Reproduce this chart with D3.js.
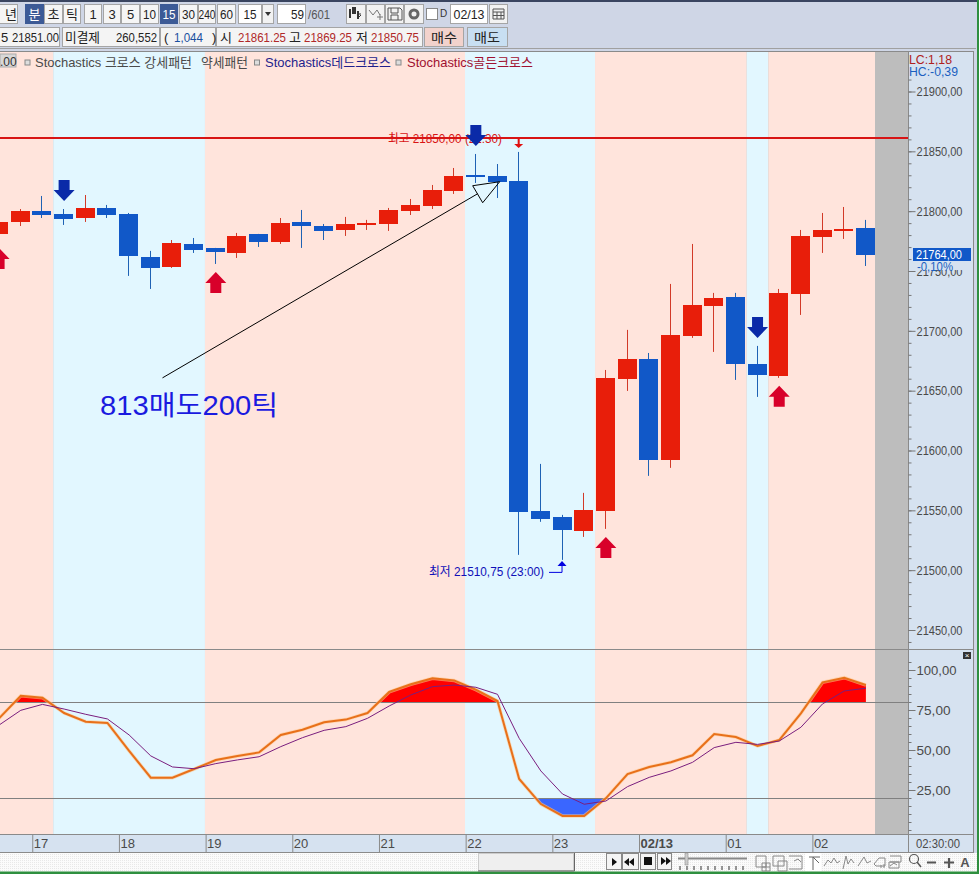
<!DOCTYPE html>
<html><head><meta charset="utf-8">
<script src="https://cdnjs.cloudflare.com/ajax/libs/d3/7.8.5/d3.min.js"></script>
<style>html,body{margin:0;padding:0;background:#cfd6e6;overflow:hidden}svg{display:block}
text{font-family:"Liberation Sans","Noto Sans CJK KR",sans-serif;white-space:pre}</style>
</head><body><div id="c"></div>
<script>
// ---------- data ----------
const opens  = [21781,21791,21800.2,21797.7,21794.3,21802.7,21797.7,21761.7,21753.4,21772.6,21769.3,21765.1,21781,21774.3,21791,21787.6,21784.3,21788.5,21789.3,21800.2,21804.3,21816.9,21830.2,21829.4,21825.2,21549.6,21544.5,21532.8,21549.6,21659.8,21676.5,21592.2,21695.7,21720.8,21728.3,21672.4,21662.3,21730.8,21778.4,21783.5,21786];
const highs  = [21793,21801.8,21812.7,21801.8,21813.5,21805.2,21798.5,21766.8,21775.9,21777.6,21769.3,21781.8,21781,21794.3,21801,21789.3,21795.2,21792.7,21802.7,21810.2,21821.9,21836.1,21847.8,21839.4,21849.5,21588.8,21546.2,21564.6,21667.3,21700.8,21681.5,21739.2,21772.6,21731.7,21731.7,21687.4,21735,21784.3,21798.5,21803.5,21792.7];
const lows   = [21775.9,21787.6,21794.3,21788.5,21791,21794.3,21745.9,21735,21752.6,21765.1,21755.9,21760.9,21770.1,21772.6,21769.3,21775.9,21779.3,21784.3,21783.5,21796.8,21801.8,21814.4,21823.6,21811,21512.8,21540.4,21508.6,21527.8,21534.5,21649.8,21578.8,21585.5,21694.1,21682.4,21659,21644.8,21660.7,21713.3,21765.1,21776.8,21754.2];
const closes = [21791,21800.2,21796.8,21793.5,21802.7,21796.8,21762.6,21752.6,21773.4,21767.6,21765.9,21779.3,21774.3,21790.1,21787.6,21783.5,21789.3,21790.1,21801,21805.2,21817.7,21829.4,21828.6,21824.4,21548.7,21542.9,21533.7,21550.4,21660.7,21676.5,21592.2,21696.6,21721.6,21727.5,21672.4,21663.2,21731.7,21779.3,21784.3,21785.1,21763.5];
const stochSlow = [69.8,83.9,82.7,73.1,67.7,66.9,49.4,32.7,32.7,38.1,43.7,46.2,48.5,59.4,62.7,67.3,69,73.1,86.3,91.1,94.8,93.5,87.7,80.6,31.9,16.2,8.8,8.8,19.8,35,39.4,42.3,46.7,60,58.1,52.5,56.2,72.9,92.3,95.2,90.6];
const stochSignal = [65.6,74.8,78.5,75.6,72.3,69.4,59.4,46.3,39.4,38.3,41.5,43.8,45.8,52.1,57.7,62.3,64.6,69.8,77.5,84.4,89.6,90.6,89.2,84.8,57.3,36.9,22.5,16.1,18.1,27.1,32.9,36.9,42.3,51.5,54.8,53.5,55.6,64.2,78.8,86.9,88.6];
const bandStarts = [-1,2.5,9.5,21.5,27.5,34.5,35.5];
const bandEnds   = [2.5,9.5,21.5,27.5,34.5,35.5,40.42];
const bandKinds  = ["up","down","up","down","up","down","up"];
const downSignals = [3,22,35];
const upSignals = [0,10,28,36];
const priceMajor = [21450,21500,21550,21600,21650,21700,21750,21800,21850,21900];
const priceMinor = d3.range(21440,21920,10);
const stochMajor = [25,50,75,100];
const stochMinor = d3.range(0,110,5);
const timeTickIdx = [2,6,10,14,18,22,26,30,34,38];
const timeTickLabels = ["17","18","19","20","21","22","23","02/13","01","02"];
const openLevel = 21861.25, lastPrice = 21764;
const periodsA = ["년","분","초","틱"], periodsB = ["1","3","5","10","15","30","240","60"];

// ---------- setup ----------
const W=979,H=874, plotR=908, axisR=973, plotTop=52, split=649, plotBot=834;
const svg=d3.select("#c").append("svg").attr("width",W).attr("height",H).attr("viewBox",`0 0 ${W} ${H}`);
const x=d3.scaleLinear().domain([0,40]).range([-0.9,865.9]);
const y=d3.scaleLinear().domain([21450,21900]).range([630,91.5]);
const ys=d3.scaleLinear().domain([25,100]).range([790,670]);
const fmt=d3.format(".2f"), cm=v=>fmt(v).replace(".",",");
const T=(g,s,px,py,o={})=>{const t=g.append("text").attr("x",px).attr("y",py).text(s)
  .attr("font-size",o.size||13).attr("fill",o.fill||"#333").attr("text-anchor",o.anchor||"start")
  .attr("dominant-baseline","central");
  if(o.len)t.attr("textLength",o.len).attr("lengthAdjust","spacingAndGlyphs");
  if(o.weight)t.attr("font-weight",o.weight);return t;};

svg.append("rect").attr("width",W).attr("height",H).attr("fill","#cfd6e6");
svg.append("rect").attr("width",W).attr("height",2).attr("fill","#3a4560");
svg.append("rect").attr("y",48).attr("width",976).attr("height",1).attr("fill","#a0a0a0");
svg.append("rect").attr("x",977).attr("width",2).attr("height",H).attr("fill","#2f8f3f");

// ---------- plot backgrounds ----------
const plot=svg.append("g");
plot.append("rect").attr("x",0).attr("y",plotTop).attr("width",plotR).attr("height",plotBot-plotTop).attr("fill","#bdbdbd");
plot.selectAll(".band").data(bandStarts).join("rect")
  .attr("x",d=>Math.max(0,x(d))).attr("y",plotTop)
  .attr("width",(d,i)=>x(bandEnds[i])-Math.max(0,x(d))).attr("height",plotBot-plotTop)
  .attr("fill",(d,i)=>bandKinds[i]==="up"?"#ffe4dc":"#e2f7ff");

// ---------- axis panels ----------
svg.append("rect").attr("x",plotR).attr("y",51).attr("width",axisR-plotR).attr("height",801).attr("fill","#d6e2f0");
svg.append("rect").attr("x",0).attr("y",834).attr("width",axisR).attr("height",18).attr("fill","#d6e2f0");
svg.append("rect").attr("x",0).attr("y",51).attr("width",974).attr("height",1).attr("fill","#8a8a8a");
svg.append("rect").attr("x",973).attr("y",51).attr("width",1).attr("height",801).attr("fill","#8a8a8a");
svg.append("rect").attr("x",plotR).attr("y",51).attr("width",1).attr("height",801).attr("fill","#8a8a8a");
svg.append("rect").attr("x",0).attr("y",split).attr("width",974).attr("height",1).attr("fill","#8a8a8a");
svg.append("rect").attr("x",0).attr("y",834).attr("width",974).attr("height",1).attr("fill","#8a8a8a");
svg.append("rect").attr("x",0).attr("y",852).attr("width",974).attr("height",1).attr("fill","#8a8a8a");

function styleAxis(g,size){g.select(".domain").remove();g.selectAll("line").attr("stroke","#777");
  g.selectAll("text").attr("fill","#4a4a4a").attr("font-size",size||13);}
svg.append("g").attr("transform",`translate(${plotR+.5},0)`).call(d3.axisRight(y).tickValues(priceMinor).tickSize(3).tickFormat("")).call(styleAxis);
const yAx=svg.append("g").attr("transform",`translate(${plotR+.5},0)`).call(d3.axisRight(y).tickValues(priceMajor).tickSize(7).tickPadding(1).tickFormat(cm)).call(styleAxis);
yAx.selectAll("text").attr("textLength",46).attr("lengthAdjust","spacingAndGlyphs");
svg.append("g").attr("transform",`translate(${plotR+.5},0)`).call(d3.axisRight(ys).tickValues(stochMinor).tickSize(3).tickFormat("")).call(styleAxis);
const sAx=svg.append("g").attr("transform",`translate(${plotR+.5},0)`).call(d3.axisRight(ys).tickValues(stochMajor).tickSize(7).tickPadding(1).tickFormat(cm)).call(styleAxis);
sAx.selectAll("text").each(function(d){d3.select(this).attr("textLength",d===100?40:34).attr("lengthAdjust","spacingAndGlyphs");});

// time axis
const xT=d3.scaleOrdinal().domain(timeTickLabels).range(timeTickIdx.map(i=>x(i-0.47)));
const xAx=svg.append("g").attr("transform","translate(0,834)").call(d3.axisBottom(xT).tickSize(18).tickPadding(0));
xAx.select(".domain").remove();xAx.selectAll("line").attr("stroke","#8a8a8a");
xAx.selectAll("text").attr("y",9).attr("dy",0).attr("x",1).attr("text-anchor","start").attr("dominant-baseline","central")
  .attr("fill","#4a4a4a").attr("font-size",13).attr("font-weight",d=>d==="02/13"?"bold":null);
svg.append("rect").attr("x",plotR).attr("y",834).attr("width",1).attr("height",18).attr("fill","#8a8a8a");
T(svg,"02:30:00",916,843.5,{fill:"#4a4a4a",len:44});

// ---------- level line ----------
svg.append("line").attr("x1",0).attr("x2",plotR).attr("y1",Math.round(y(openLevel))).attr("y2",Math.round(y(openLevel))).attr("stroke","#d81414").attr("stroke-width",2);

// ---------- annotations under candles ----------
T(svg,"최고 21850,00 (22:30)",388,139,{size:12.5,fill:"#d81414",len:114});
T(svg,"최저 21510,75 (23:00)",429,571.5,{size:12.5,fill:"#1010b8",len:115});

// ---------- candles ----------
const cg=svg.append("g");
const idx=d3.range(opens.length), up=i=>closes[i]>=opens[i];
cg.selectAll(".w").data(idx).join("rect")
  .attr("x",i=>Math.floor(x(i)-.5)).attr("width",1)
  .attr("y",i=>y(highs[i])).attr("height",i=>y(lows[i])-y(highs[i]))
  .attr("fill",i=>up(i)?"#d23a28":"#1f62b4");
cg.selectAll(".b").data(idx).join("rect")
  .attr("x",i=>Math.floor(x(i)-9.5)).attr("width",19)
  .attr("y",i=>Math.round(y(Math.max(opens[i],closes[i]))))
  .attr("height",i=>Math.max(2,Math.round(y(Math.min(opens[i],closes[i]))-y(Math.max(opens[i],closes[i])))))
  .attr("fill",i=>up(i)?"#e81e0a":"#1158c8");

// signal arrows
const downArrow=i=>{const c=x(i),t=y(highs[i])-8;return `M${c},${t}l-10.5,-11h5v-10h11v10h5z`;};
const upArrow=i=>{const c=x(i),t=y(lows[i])+8;return `M${c},${t}l-10.5,11h5v10h11v-10h5z`;};
svg.selectAll(".da").data(downSignals).join("path").attr("d",downArrow).attr("fill","#0a2aa8");
svg.selectAll(".ua").data(upSignals).join("path").attr("d",upArrow).attr("fill","#d8002a");
// high marker
{const i=24,c=x(i)-.5,t=y(highs[i]);
 svg.append("path").attr("d",`M${c},${t-4}l-4.5,-4h3.5v-5h2v5h3.5z`).attr("fill","#e01010");}
// low marker
{const i=26,c=x(i)-.5,t=y(lows[i]);
 svg.append("path").attr("d",`M${c},${t+1}l-4.5,5h9z`).attr("fill","#0000e0");
 svg.append("path").attr("d",`M${c-13},${t+12.5}h13v-7`).attr("fill","none").attr("stroke","#0000e0");}

// drawn trend note
const noteFrom=[7.54,21660.7], noteTo=[23.1,21824.6];
const tx=x(noteTo[0]),ty=y(noteTo[1]);
svg.append("line").attr("x1",x(noteFrom[0])).attr("y1",y(noteFrom[1])).attr("x2",tx-22).attr("y2",ty+12).attr("stroke","#000").attr("stroke-width",1);
svg.append("path").attr("d",`M${tx},${ty}L${tx-27},${ty+4}L${tx-17},${ty+21}Z`).attr("fill","none").attr("stroke","#000");
T(svg,"813매도200틱",100,405.5,{size:27,fill:"#1a1ae0",len:178});

// ---------- stochastic ----------
svg.append("clipPath").attr("id","above").append("rect").attr("x",0).attr("y",plotTop).attr("width",plotR).attr("height",ys(80)-plotTop);
svg.append("clipPath").attr("id","below").append("rect").attr("x",0).attr("y",ys(20)).attr("width",plotR).attr("height",plotBot-ys(20));
const area=lvl=>d3.area().x((d,i)=>x(i)).y0(ys(lvl)).y1(d=>ys(d));
svg.append("path").attr("clip-path","url(#above)").attr("d",area(80)(stochSlow)).attr("fill","#ff0000");
svg.append("path").attr("clip-path","url(#below)").attr("d",area(20)(stochSlow)).attr("fill","#3a66ff");
[80,20].forEach(l=>svg.append("line").attr("x1",0).attr("x2",plotR).attr("y1",Math.round(ys(l))+.5).attr("y2",Math.round(ys(l))+.5).attr("stroke","#808080"));
const ln=d3.line().x((d,i)=>x(i)).y(d=>ys(d));
svg.append("path").attr("d",ln(stochSlow)).attr("fill","none").attr("stroke","#ffc890").attr("stroke-opacity",.6).attr("stroke-width",3.5);
svg.append("path").attr("d",ln(stochSlow)).attr("fill","none").attr("stroke","#e8701a").attr("stroke-width",2);
svg.append("path").attr("d",ln(stochSignal)).attr("fill","none").attr("stroke","#7a1e7e").attr("stroke-width",1);

// ---------- axis extras ----------
T(svg,"LC:1,18",909,59,{fill:"#b02020",len:43});
T(svg,"HC:-0,39",909,71,{fill:"#1a5fc0",len:49});
svg.append("rect").attr("x",913).attr("y",248).attr("width",58).attr("height",13).attr("fill","#1158c8");
T(svg,cm(lastPrice),916,254.5,{fill:"#fff",len:46});
svg.append("rect").attr("x",914).attr("y",261).attr("width",50).attr("height",9).attr("fill","#d6e2f0");
T(svg,"-0,10%",917,266,{fill:"#1a5fc0",len:36});
svg.append("rect").attr("x",963).attr("y",652).attr("width",8).attr("height",7).attr("fill","#333");
T(svg,"×",967,655.5,{size:8,fill:"#fff",anchor:"middle"});

// ---------- legend ----------
svg.append("rect").attr("x",0).attr("y",54).attr("width",16).attr("height",13).attr("fill","#d8d8d8").attr("stroke","#aaa");
T(svg,".00",0,61.5,{size:12,fill:"#333"});
[27,256.5,398].forEach(px=>svg.append("rect").attr("x",px-2).attr("y",60).attr("width",5).attr("height",5).attr("fill","#ddd").attr("stroke","#888"));
T(svg,"Stochastics 크로스 강세패턴",35,62,{fill:"#4a4a4a",len:157});
T(svg,"약세패턴",201,62,{fill:"#4a4a4a",len:47});
T(svg,"Stochastics데드크로스",265,62,{fill:"#1e1e8c",len:126});
T(svg,"Stochastics골든크로스",407,62,{fill:"#a01030",len:126});

// ---------- toolbar ----------
const tb=svg.append("g");
const btn=(x0,x1,y0,y1,fill,sel)=>tb.append("rect").attr("x",x0+.5).attr("y",y0+.5).attr("width",x1-x0-1).attr("height",y1-y0-1).attr("fill",fill).attr("stroke",sel?"#3c5a96":"#a5a5a5");
const edgesA=[[-4,18],[25,44],[44,63],[63,81]];
periodsA.forEach((s,i)=>{const e=edgesA[i],sel=s==="분";btn(e[0],e[1],4,24,sel?"#3c5a96":"#f5f5f5",sel);T(tb,s,(e[0]+e[1])/2+(i==0?4:0),14,{anchor:"middle",fill:sel?"#fff":"#222"});});
const edgesB=[[84,102],[103,121],[121,140],[140,159],[160,178],[179,198],[198,216],[217,236]];
periodsB.forEach((s,i)=>{const e=edgesB[i],sel=s==="15";btn(e[0],e[1],4,24,sel?"#3c5a96":"#f5f5f5",sel);T(tb,s,(e[0]+e[1])/2,14,{anchor:"middle",fill:sel?"#fff":"#222",len:s.length>2?17:(s.length>1?13:null)});});
btn(238,262,4,24,"#fff");T(tb,"15",250,14,{anchor:"middle",fill:"#222",len:13});
btn(262,274,4,24,"#f2f2f2");tb.append("path").attr("d","M265,12h6l-3,4z").attr("fill","#333");
btn(277,306,4,24,"#fff");T(tb,"59",304,14,{anchor:"end",fill:"#222",len:13});
T(tb,"/601",308,14,{fill:"#555",len:22});
[[346,366],[366,385],[385,404],[404,424]].forEach(e=>btn(e[0],e[1],4,24,"#f2f2f2"));
tb.append("path").attr("d","M350,9v9M354,7v7M354,8h-1v5h2v-5z M358,11v8").attr("stroke","#333").attr("stroke-width",2).attr("fill","none");
tb.append("path").attr("d","M361,15l-3,3M361,14l-2,0").attr("stroke","#333").attr("fill","none");
tb.append("path").attr("d","M369,10l4,5l4,-5l3,5M377,17h6M380,14v6").attr("stroke","#777").attr("fill","none");
tb.append("path").attr("d","M388,8h12l2,2v10h-14zM391,8v5h7v-5M391,20v-5h7v5").attr("stroke","#555").attr("fill","none");
tb.append("circle").attr("cx",414).attr("cy",14).attr("r",4).attr("fill","none").attr("stroke","#666").attr("stroke-width",3);
tb.append("rect").attr("x",426.5).attr("y",8.5).attr("width",11).attr("height",11).attr("fill","#fff").attr("stroke","#888");
T(tb,"D",440,13,{size:10,fill:"#333"});
btn(450,488,4,24,"#fff");T(tb,"02/13",469,14,{anchor:"middle",fill:"#222",len:31});
btn(489,508,4,24,"#f2f2f2");
tb.append("path").attr("d","M493,9h11v10h-11zM493,12h11M497,12v7M501,12v7M493,15.5h11").attr("stroke","#555").attr("fill","none");

// second row
btn(-4,60,27,47,"#f4f4f4");
T(tb,"5",1,37,{fill:"#222"});T(tb,"21851.00",12,37,{fill:"#222",len:47});
btn(62,160,27,47,"#f4f4f4");T(tb,"미결제",65,37,{fill:"#222",len:35});T(tb,"260,552",157,37,{anchor:"end",fill:"#222",len:41});
btn(160,216,27,47,"#f4f4f4");T(tb,"(",164,37,{fill:"#222"});T(tb,"1,044",174,37,{fill:"#1a50a0",len:29});T(tb,")",212,37,{fill:"#222"});
btn(216,423,27,47,"#f4f4f4");
T(tb,"시",220,37,{fill:"#222"});T(tb,"21861.25",238,37,{fill:"#b02828",len:48});
T(tb,"고",289,37,{fill:"#222"});T(tb,"21869.25",304,37,{fill:"#b02828",len:48});
T(tb,"저",356,37,{fill:"#222"});T(tb,"21850.75",371,37,{fill:"#b02828",len:48});
btn(424,464,27,47,"#f2d2cc");T(tb,"매수",444,37,{anchor:"middle",fill:"#222",len:26});
btn(467,508,27,47,"#c8dff2");T(tb,"매도",487,37,{anchor:"middle",fill:"#222",len:26});

// ---------- bottom strip ----------
const bs=svg.append("g");
const pat=svg.append("pattern").attr("id","dith").attr("width",2).attr("height",2).attr("patternUnits","userSpaceOnUse");
pat.append("rect").attr("width",2).attr("height",2).attr("fill","#fbfbfb");
pat.append("rect").attr("width",1).attr("height",1).attr("fill","#e8e8e8");
bs.append("rect").attr("x",0).attr("y",853).attr("width",977).attr("height",19).attr("fill","url(#dith)");
bs.append("rect").attr("x",0).attr("y",871.5).attr("width",979).attr("height",2.5).attr("fill","#2f8f3f");
bs.append("rect").attr("x",478.5).attr("y",853.5).attr("width",95).attr("height",17).attr("fill","#efefef").attr("stroke","#ccc");
bs.append("path").attr("d","M574.5,853v18H478").attr("stroke","#666").attr("fill","none");
[[606,622],[622,639],[640,656],[657,672]].forEach(e=>{bs.append("rect").attr("x",e[0]+.5).attr("y",853.5).attr("width",e[1]-e[0]-1).attr("height",16).attr("fill","#f4f4f4").attr("stroke","#888");});
bs.append("path").attr("d","M612,858l5,4l-5,4zM634,858l-5,4l5,4zM629,858l-5,4l5,4zM644,857h8v8h-8zM661,857l5,4l-5,4zM666,857l5,4l-5,4z").attr("fill","#111");
bs.append("line").attr("x1",678).attr("x2",747).attr("y1",858.5).attr("y2",858.5).attr("stroke","#888").attr("stroke-width",2);
bs.append("rect").attr("x",685).attr("y",853).attr("width",3).attr("height",12).attr("fill","#ccc").attr("stroke","#888").attr("stroke-width",.5);
d3.range(680,750,7).forEach(px=>bs.append("line").attr("x1",px).attr("x2",px).attr("y1",866).attr("y2",870).attr("stroke","#333"));
bs.append("path").attr("d","M756,856h10v11h-10zM762,863h8v8h-8zM762,867h8M766,863v8M773,856h11v10h-11zM778,861h9v10h-9zM789,856h13v13h-13M794,861l4,-2l3,3").attr("fill","none").attr("stroke","#888");
bs.append("rect").attr("x",805).attr("y",853).attr("width",16).attr("height",18).attr("fill","#fff");
bs.append("path").attr("d","M809,857h11M813,857v13M813,857l6,6").attr("fill","none").attr("stroke","#666");
bs.append("path").attr("d","M824,866l4,-6l3,3l3,-5l3,5l3,-2M843,869l3,-13l2,8l3,-5l3,4M858,866l6,-9l3,6l4,-2M874,864l5,-6h6v8h-9zM881,868v-3M884,868v-4M890,856h11v6h-11M889,868v-6h10v6zM890,866l4,-3l3,2").attr("fill","none").attr("stroke","#888");
bs.append("circle").attr("cx",914).attr("cy",859).attr("r",4.5).attr("fill","none").attr("stroke","#555").attr("stroke-width",1.2);
bs.append("path").attr("d","M917,862l4,5").attr("stroke","#555").attr("stroke-width",1.5);
bs.append("path").attr("d","M927,862.5h9M944,862.5h10M949,858v10").attr("stroke","#555").attr("stroke-width",2.2).attr("fill","none");
T(bs,"A",965,862.5,{size:13,fill:"#555",weight:"bold",anchor:"middle"});
</script></body></html>
